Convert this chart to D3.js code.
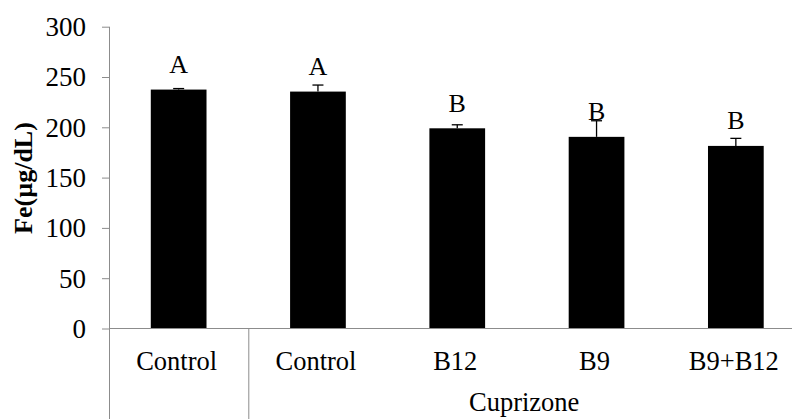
<!DOCTYPE html>
<html>
<head>
<meta charset="utf-8">
<script src="https://cdn.jsdelivr.net/npm/d3@7"></script>
<style>
  html, body { margin: 0; padding: 0; background: #fff; }
  svg { display: block; }
  svg text { font-family: "Liberation Serif", "Times New Roman", serif !important; fill: #000; }
</style>
</head>
<body>
<svg id="chart" width="792" height="419"></svg>
<script>
// Serum iron by treatment group
const groups = ["Control", "Control", "B12", "B9", "B9+B12"];
const ironMean = [237.5, 235.5, 199, 190.5, 181.5];
const ironErr = [1, 6.5, 3.5, 16, 7.5];
const sigLetters = ["A", "A", "B", "B", "B"];
const yTicks = [0, 50, 100, 150, 200, 250, 300];
const groupLabel = "Cuprizone";
const yTitle = "Fe(µg/dL)";

const W = 792, H = 419;
const svg = d3.select("#chart");
const axisColor = "#8c8c8c";

const y = d3.scaleLinear().domain([0, 300]).range([328.5, 26.7]);
const x = d3.scaleBand()
  .domain(d3.range(groups.length))
  .range([109, 805.5])
  .paddingInner(0.6)
  .paddingOuter(0.3);
const cx = i => x(i) + x.bandwidth() / 2;

// y axis ticks and labels
const yAxis = svg.append("g")
  .attr("transform", "translate(109,0)")
  .call(d3.axisLeft(y).tickValues(yTicks).tickSize(7).tickPadding(16).tickSizeOuter(0));
yAxis.select(".domain").remove();
yAxis.selectAll(".tick line").attr("stroke", axisColor);
yAxis.selectAll(".tick text")
  .attr("font-size", 27)
  .attr("dy", "0.33em")
  .attr("fill", "#000");

// vertical axis line, running down through the category rows
svg.append("line")
  .attr("x1", 109.5).attr("x2", 109.5)
  .attr("y1", y(300)).attr("y2", H)
  .attr("stroke", axisColor).attr("stroke-width", 1);

// bars
svg.append("g").selectAll("rect")
  .data(ironMean)
  .join("rect")
  .attr("x", (d, i) => x(i))
  .attr("width", x.bandwidth())
  .attr("y", d => y(d))
  .attr("height", d => y(0) - y(d))
  .attr("fill", "#000");

// error bars (upper only)
const eb = svg.append("g").attr("stroke", "#000").attr("stroke-width", 1.3);
ironMean.forEach((m, i) => {
  const top = y(m + ironErr[i]);
  eb.append("line").attr("x1", cx(i)).attr("x2", cx(i)).attr("y1", y(m)).attr("y2", top);
  eb.append("line").attr("x1", cx(i) - 5.5).attr("x2", cx(i) + 5.5).attr("y1", top).attr("y2", top);
});

// significance letters
svg.append("g").selectAll("text")
  .data(sigLetters)
  .join("text")
  .attr("x", (d, i) => cx(i))
  .attr("y", (d, i) => y(ironMean[i]) - 16.5)
  .attr("text-anchor", "middle")
  .attr("font-size", 26)
  .text(d => d);

// x axis baseline
svg.append("line")
  .attr("x1", 109).attr("x2", W)
  .attr("y1", 328.5).attr("y2", 328.5)
  .attr("stroke", axisColor).attr("stroke-width", 1);

// separator between the control group and the cuprizone groups
const sepX = x(1) - x.step() * x.paddingInner() / 2;
svg.append("line")
  .attr("x1", sepX + 0.5).attr("x2", sepX + 0.5)
  .attr("y1", 328.5).attr("y2", H)
  .attr("stroke", axisColor).attr("stroke-width", 1);

// category labels
svg.append("g").selectAll("text")
  .data(groups)
  .join("text")
  .attr("x", (d, i) => cx(i) - 2)
  .attr("y", 370)
  .attr("text-anchor", "middle")
  .attr("font-size", 26.5)
  .text(d => d);

// group label, centred under the visible cuprizone span
svg.append("text")
  .attr("x", (sepX + W) / 2 + 4)
  .attr("y", 411)
  .attr("text-anchor", "middle")
  .attr("font-size", 26.5)
  .text(groupLabel);

// y title
svg.append("text")
  .attr("transform", "translate(32,178) rotate(-90)")
  .attr("text-anchor", "middle")
  .attr("font-size", 26)
  .attr("font-weight", "bold")
  .text(yTitle);
</script>
</body>
</html>
